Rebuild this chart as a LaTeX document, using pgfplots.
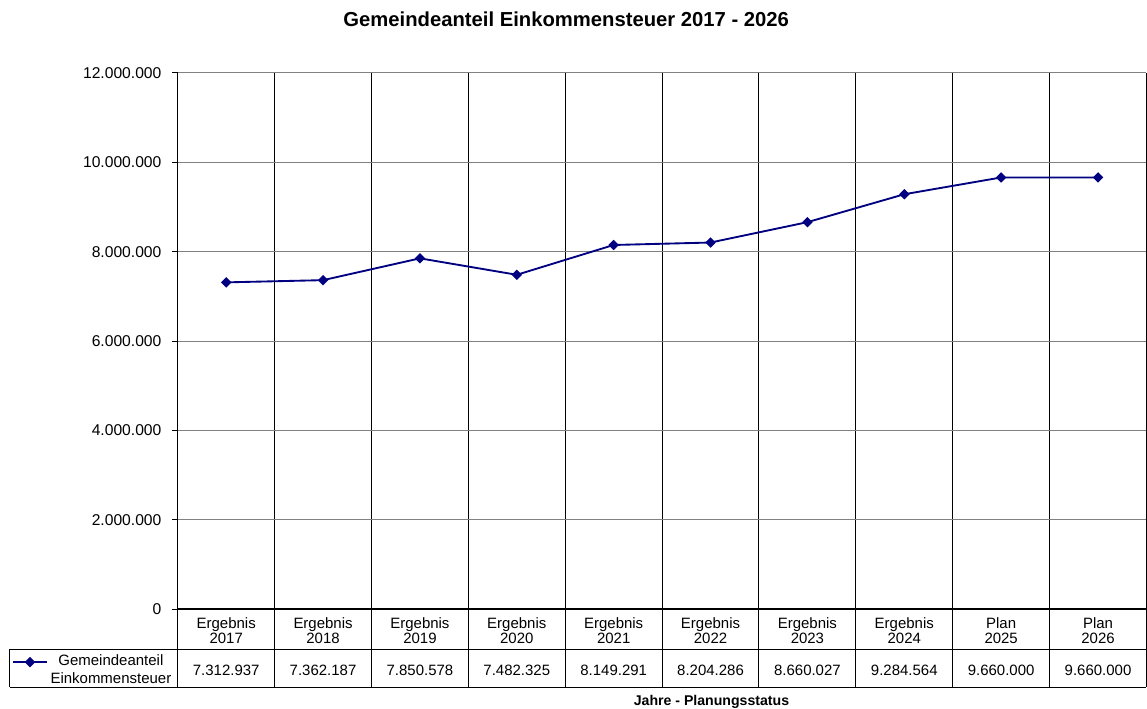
\documentclass[border=0pt]{standalone}
\usepackage{fontspec}
\setmainfont{Liberation Sans}
\usepackage{pgfplots}
\pgfplotsset{compat=1.18}
\definecolor{navyline}{RGB}{0,0,128}
\definecolor{gridgray}{RGB}{128,128,128}

\begin{document}
\begin{tikzpicture}
% 1 px of the reference = 0.75pt; axis origin = lower left of the plot area
\path[use as bounding box] (-133.5pt,-74.25pt) rectangle (727.9pt,457.5pt);
\begin{axis}[
    at={(0,0)}, anchor=south west,
    scale only axis,
    width=727.5pt, height=402.75pt,
    xmin=-0.5, xmax=9.5,
    ymin=0, ymax=12000000,
    axis lines=left,
    axis line style={-, black, line width=0.75pt},
    x axis line style={line width=1.5pt},
    xtick={0,...,9},
    xticklabels={
        {Ergebnis\\2017\\[12.75pt]7.312.937},
        {Ergebnis\\2018\\[12.75pt]7.362.187},
        {Ergebnis\\2019\\[12.75pt]7.850.578},
        {Ergebnis\\2020\\[12.75pt]7.482.325},
        {Ergebnis\\2021\\[12.75pt]8.149.291},
        {Ergebnis\\2022\\[12.75pt]8.204.286},
        {Ergebnis\\2023\\[12.75pt]8.660.027},
        {Ergebnis\\2024\\[12.75pt]9.284.564},
        {Plan\\2025\\[12.75pt]9.660.000},
        {Plan\\2026\\[12.75pt]9.660.000}},
    xticklabel style={align=center, font=\fontsize{11.25}{11.25}\selectfont, anchor=north, yshift=2pt},
    major x tick style={draw=none},
    minor xtick={-0.5,0.5,...,9.5},
    xminorgrids=true,
    minor x grid style={black, line width=0.75pt},
    minor x tick style={draw=none},
    ytick={0,2000000,...,12000000},
    ymajorgrids=true,
    major y grid style={gridgray, line width=0.75pt},
    tick align=outside,
    major tick length=4.5pt,
    ytick style={black, line width=0.75pt},
    scaled y ticks=false,
    /pgf/number format/.cd, fixed, precision=0, 1000 sep={.}, assume math mode=true,
    /pgfplots/.cd,
    yticklabel style={font=\fontsize{11.75}{13}\selectfont, anchor=east, xshift=-4.25pt},
    title={Gemeindeanteil Einkommensteuer 2017 - 2026},
    title style={font=\fontsize{15.2}{17}\selectfont\bfseries, at={(0.401,1)}, anchor=center, yshift=34.5pt},
    xlabel={Jahre - Planungsstatus},
    xlabel style={font=\fontsize{10.6}{12}\selectfont\bfseries, at={(0.551,0)}, anchor=center, yshift=-69.75pt},
    legend style={at={(-0.0875,-0.1136)}, anchor=center, draw=none, fill=none,
        font=\fontsize{11.25}{13.5}\selectfont, nodes={align=center},
        /tikz/every even column/.append style={column sep=3pt}},
    legend image code/.code={\draw[mark repeat=2, mark phase=2, #1] plot coordinates {(0pt,6pt) (12.75pt,6pt) (25.5pt,6pt)};},
    clip=false,
]
\addplot[navyline, line width=1.4pt, mark=square*, mark size=2.4pt, mark options={rotate=45, fill=navyline, line width=0.75pt}]
    coordinates {
    (0,7312937) (1,7362187) (2,7850578) (3,7482325) (4,8149291)
    (5,8204286) (6,8660027) (7,9284564) (8,9660000) (9,9660000)
    };
\legend{Gemeindeanteil\\Einkommensteuer}
\end{axis}
% data table frame below the plot area
\foreach \k in {0,...,10}
    \draw[black, line width=0.75pt] (\k*72.75pt,0pt) -- (\k*72.75pt,-58.5pt);
\draw[black, line width=0.75pt] (-126pt,-30pt) -- (727.5pt,-30pt);
\draw[black, line width=0.75pt] (-126pt,-58.5pt) -- (727.5pt,-58.5pt);
\draw[black, line width=0.75pt] (-126pt,-30pt) -- (-126pt,-58.5pt);
\end{tikzpicture}
\end{document}
